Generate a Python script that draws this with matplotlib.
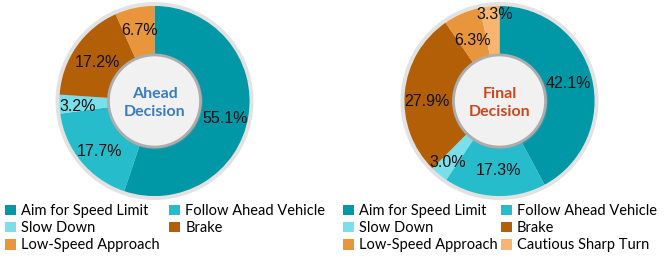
import matplotlib.pyplot as plt
import numpy as np
from matplotlib.patches import Circle, Patch

# data
labels_all = ['Aim for Speed Limit', 'Follow Ahead Vehicle', 'Slow Down',
              'Brake', 'Low-Speed Approach', 'Cautious Sharp Turn']
colors_all = ['#0097A7', '#27BCCC', '#7ADFEA', '#B35F07', '#E9953C', '#F7B56F']

ahead_vals = [55.1, 17.7, 3.2, 17.2, 6.7]
final_vals = [42.1, 17.3, 3.0, 27.9, 6.3, 3.3]

# label placement: distance (fraction of radius) and angle nudge (deg) per slice
ahead_dist = [0.74, 0.76, 0.79, 0.70, 0.74]
ahead_rot = [-5.0, 3.3, 2.2, 1.1, 0.0]
final_dist = [0.73, 0.71, 0.82, 0.74, 0.68, 0.88]
final_rot = [0.3, 2.3, -0.5, 5.7, 0.7, -2.9]

W, H = 664, 263
fig = plt.figure(figsize=(W / 100, H / 100), dpi=100)

R_PX = 98.0
HALF = 110.0


def donut(cx, cy, vals, dists, rots, title, title_color):
    ax = fig.add_axes([(cx - HALF) / W, 1 - (cy + HALF) / H, 2 * HALF / W, 2 * HALF / H])
    ax.add_patch(Circle((0, 0), 1.01, facecolor='#E2E2E2', edgecolor='none', zorder=0))
    wedges, _ = ax.pie(vals, colors=colors_all[:len(vals)], startangle=90,
                       counterclock=False, radius=0.97,
                       wedgeprops=dict(linewidth=0))
    lim = HALF / R_PX
    ax.set_xlim(-lim, lim)
    ax.set_ylim(-lim, lim)
    ax.set_aspect('equal')
    ax.axis('off')

    for w, v, d, r in zip(wedges, vals, dists, rots):
        th = np.deg2rad((w.theta1 + w.theta2) / 2 + r)
        ax.text(d * np.cos(th), d * np.sin(th), f'{v:.1f}%', ha='center', va='center',
                fontsize=11.5, family='Liberation Sans', color='#111111', zorder=5)

    # inner disc with a soft shadow
    ax.add_patch(Circle((0.01, -0.01), 0.485, facecolor='#9A9A9A', alpha=0.3,
                        edgecolor='none', zorder=3))
    ax.add_patch(Circle((0, 0), 0.47, facecolor='#F1F1F1', edgecolor='#ADADAD',
                        linewidth=2.0, zorder=4))
    ax.text(0, -0.02, title, ha='center', va='center', fontsize=11.5, fontweight='bold',
            family='Lato', color=title_color, linespacing=1.3, zorder=6)
    return ax


donut(154.5, 101, ahead_vals, ahead_dist, ahead_rot, 'Ahead\nDecision', '#3B7CC0')
donut(499.5, 101, final_vals, final_dist, final_rot, 'Final\nDecision', '#D0461C')


def legend(n, x0, y0, colsp):
    order = [0, 2, 4, 1, 3, 5] if n == 6 else [0, 2, 4, 1, 3]
    handles = [Patch(facecolor=colors_all[i], edgecolor='none') for i in order]
    names = [labels_all[i] for i in order]
    fig.legend(handles, names, ncol=2, loc='upper left',
               bbox_to_anchor=(x0 / W, 1 - y0 / H), frameon=False,
               borderpad=0, borderaxespad=0, handlelength=0.75, handleheight=0.75,
               handletextpad=0.35, labelspacing=0.22, columnspacing=colsp,
               prop=dict(family='Lato', size=10.5))


legend(5, 5, 204, 0.67)
legend(6, 343, 204, 0.2)

fig.savefig('out.png', dpi=100)
